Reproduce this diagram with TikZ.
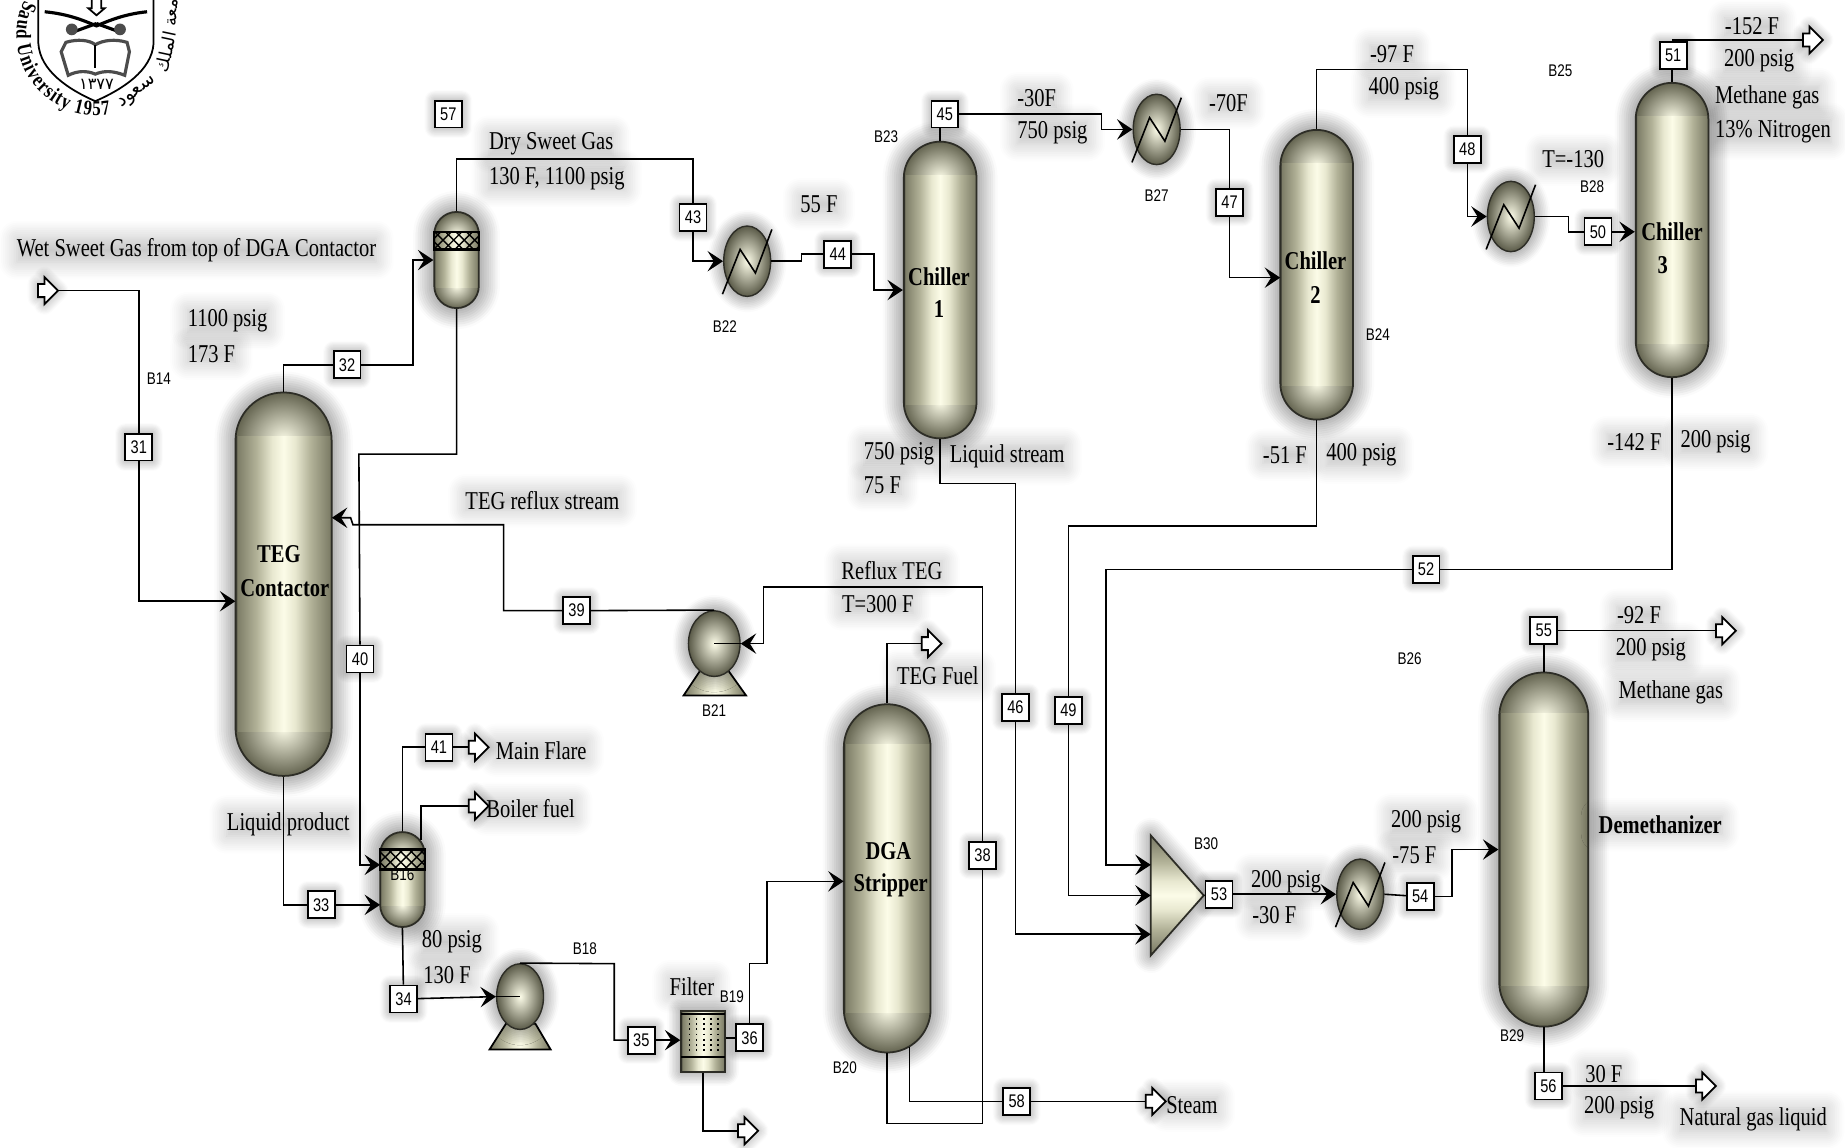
\documentclass[tikz,border=0pt]{standalone}
\usepackage{fontspec}
\setmainfont[FakeStretch=0.8]{Liberation Serif}
\setsansfont[FakeStretch=0.8]{Liberation Sans}
\newfontfamily\arabicfont[Script=Arabic]{DejaVu Sans}
\TeXXeTstate=1
\usetikzlibrary{arrows.meta, patterns, decorations.text, shapes.geometric, shapes.arrows, shadows.blur}

\definecolor{vesseledge}{RGB}{45,45,38}
\definecolor{vesseldark}{RGB}{100,100,80}
\definecolor{vesselside}{RGB}{125,125,103}
\definecolor{vesselmid}{RGB}{178,178,152}
\definecolor{vesselpale}{RGB}{232,232,208}
\definecolor{vessellight}{RGB}{252,252,232}
\pgfdeclarehorizontalshading{column}{100bp}{color(0bp)=(vesseledge); color(25bp)=(vesseledge); color(26bp)=(vesselside); color(36bp)=(vesselmid); color(44bp)=(vesselpale); color(50bp)=(vessellight); color(56bp)=(vesselpale); color(64bp)=(vesselmid); color(74bp)=(vesselside); color(75bp)=(vesseledge); color(100bp)=(vesseledge)}
\def\unitpx{0.3336pt}

\tikzset{
  glow/.style 2 args={blur shadow={shadow xshift=0pt, shadow yshift=0pt, shadow blur radius=#1, shadow blur steps=10, shadow opacity=#2}},
  stream/.style={draw=black, line width=.45pt},
  feed/.style={stream, -{Stealth[length=4.4pt, width=5.8pt, inset=1.8pt]}},
  tag/.style={draw, fill=white, line width=.5pt, inner sep=0pt, minimum size=23*\unitpx, font=\sffamily\fontsize{5.2}{6}\selectfont, glow={3pt}{45}},
  blocktag/.style={inner sep=0pt, font=\sffamily\fontsize{4.8}{6}\selectfont},
  note/.style={inner sep=0pt, yshift=-.2pt, font=\fontsize{7.3}{8}\selectfont, glow={5pt}{25}},
  title/.style={inner sep=0pt, font=\bfseries\fontsize{7.3}{8}\selectfont},
  port/.style={single arrow, draw, fill=white, line width=.5pt, inner sep=1.6pt, minimum height=17*\unitpx, single arrow head extend=2pt, glow={3pt}{40}},
  vessel/.style 2 args={shade, shading=column, draw=vesseledge, line width=.5pt, inner sep=0pt, glow={6pt}{65},
    minimum width=2*#1*\unitpx, minimum height=#2*\unitpx, rounded corners=#1*\unitpx,
    path picture={
      \begin{scope}[sharp corners]
        \clip ([yshift=-.9*#1*\unitpx]path picture bounding box.north west) rectangle (path picture bounding box.north east);
        \shade[inner color=vessellight, outer color=vesseldark] ([yshift=-#1*\unitpx]path picture bounding box.north) circle (#1*\unitpx);
      \end{scope}
      \begin{scope}[sharp corners]
        \clip ([yshift=.9*#1*\unitpx]path picture bounding box.south west) rectangle (path picture bounding box.south east);
        \shade[inner color=vessellight, outer color=vesseldark] ([yshift=#1*\unitpx]path picture bounding box.south) circle (#1*\unitpx);
      \end{scope}
    }},
  bulb/.style 2 args={ellipse, inner color=vessellight, outer color=vesseldark!90!black, draw=vesseledge, line width=.4pt, inner sep=0pt, glow={4.5pt}{60}, minimum width=2*#1*\unitpx, minimum height=2*#2*\unitpx},
  packing/.style={pattern=crosshatch, pattern color=black, draw=black, line width=.7pt},
  pumpbase/.style={shade, shading=column, draw=black, line width=.5pt}
}

\begin{document}
\begin{tikzpicture}[x=0.011767cm, y=-0.011767cm]
  \useasboundingbox (0,0) rectangle (1568,975);

  % crest
  \draw[line width=.5pt] (32.6,-2) -- (32.6,37) .. controls (34,60) and (58,76) .. (81,86) .. controls (104,76) and (129,60) .. (130.5,37) -- (130.5,-2);
  \path[decorate, decoration={text along path, text align={fit to path}, text={|\bfseries\fontsize{6}{7}\selectfont|Saud University 1957}}] (82,30) ++(154:0.8cm) arc (154:280:0.8cm);
  \node[inner sep=0pt, rotate=37, font=\fontsize{5.4}{6}\selectfont] (crestsaud) at (117,79) {\arabicfont\beginR سعود\endR};
  \node[inner sep=0pt, rotate=78, font=\fontsize{5}{6}\selectfont] (crestking) at (141,44) {\arabicfont\beginR الملك\endR};
  \node[inner sep=0pt, rotate=88, font=\fontsize{5}{6}\selectfont] (crestuni) at (146,4) {\arabicfont\beginR جامعة\endR};
  \node[inner sep=0pt, font=\fontsize{4.6}{5}\selectfont] (crestyear) at (82,72) {\arabicfont ١٣٧٧};
  \draw[line width=.5pt] (78,-2) -- (78,7) -- (75,7) -- (82,13) -- (89,7) -- (86,7) -- (86,-2);
  \draw[line width=.9pt] (38,10) .. controls (58,12) and (70,17) .. (82,22) .. controls (94,17) and (106,12) .. (125,10);
  \draw[line width=.9pt] (60,28) -- (82,20) (104,28) -- (82,20);
  \fill[black!70] (61,25) circle (5) (102,25) circle (5);
  \draw[line width=.9pt, draw=black!70] (52,44) -- (56,36) .. controls (66,33) and (76,34) .. (81,38) .. controls (88,34) and (98,33) .. (108,36) -- (110,44) -- (106,64) .. controls (96,60) and (88,60) .. (81,63) .. controls (74,60) and (66,60) .. (58,64) -- cycle;
  \draw[line width=.5pt] (81,38) -- (81,58);

  % text
  \node[note] (wetgas) at (167,212) {Wet Sweet Gas from top of DGA Contactor};
  \node[note, anchor=west] (pa) at (159,272) {1100 psig};
  \node[note, anchor=west] (ta) at (159,300) {173 F};
  \node[note, anchor=west] (drygas) at (415,122) {Dry Sweet Gas};
  \node[note, anchor=west] (tb) at (415,151) {130 F, 1100 psig};
  \node[note] (tc) at (696,173) {55 F};
  \node[note, anchor=west] (td) at (864,83) {-30F};
  \node[note, anchor=west] (pd) at (864,112) {750 psig};
  \node[note] (te) at (1044,87) {-70F};
  \node[note] (tf) at (1183,45) {-97 F};
  \node[note] (pf) at (1193,75) {400 psig};
  \node[note] (tg) at (1337,135) {T=-130};
  \node[note] (th) at (1489,22) {-152 F};
  \node[note] (ph) at (1495,51) {200 psig};
  \node[note, anchor=west] (methanea) at (1457,82) {Methane gas};
  \node[note, anchor=west] (nitrogen) at (1457,111) {13\% Nitrogen};
  \node[note] (pi) at (764,385) {750 psig};
  \node[note] (ti) at (750,412) {75 F};
  \node[note] (liqstream) at (856,387) {Liquid stream};
  \node[note] (tj) at (1092,386) {-51 F};
  \node[note] (pj) at (1157,386) {400 psig};
  \node[note] (tk) at (1389,375) {-142 F};
  \node[note] (pk) at (1458,375) {200 psig};
  \node[note] (tegreflux) at (461,425) {TEG reflux stream};
  \node[note] (refluxteg) at (758,484) {Reflux TEG};
  \node[note] (tl) at (746,513) {T=300 F};
  \node[note] (tegfuel) at (797,574) {TEG Fuel};
  \node[note] (mainflare) at (460,637) {Main Flare};
  \node[note] (boilerfuel) at (451,687) {Boiler fuel};
  \node[note] (liqproduct) at (245,700) {Liquid product};
  \node[note] (pm) at (384,800) {80 psig};
  \node[note] (tm) at (380,828) {130 F};
  \node[note] (filterlabel) at (588,838) {Filter};
  \node[note] (steam) at (1013,939) {Steam};
  \node[note] (pn) at (1093,749) {200 psig};
  \node[note] (tn) at (1083,777) {-30 F};
  \node[note] (po) at (1212,698) {200 psig};
  \node[note] (to) at (1202,726) {-75 F};
  \node[note] (tp) at (1393,522) {-92 F};
  \node[note] (pp) at (1403,552) {200 psig};
  \node[note] (methaneb) at (1420,588) {Methane gas};
  \node[note] (tq) at (1363,912) {30 F};
  \node[note] (pq) at (1376,941) {200 psig};
  \node[note] (ngl) at (1490,951) {Natural gas liquid};

  % vessels
  \node[vessel={41}{327}] (contactor) at (241,496.5) {};
  \node[vessel={19}{82}] (absorber) at (388,221) {};
  \node[vessel={31}{253}] (chillerA) at (799,246.5) {};
  \node[vessel={31}{247}] (chillerB) at (1119,233.5) {};
  \node[vessel={31}{251}] (chillerC) at (1421,195.5) {};
  \node[vessel={37}{297}] (stripper) at (754,746.5) {};
  \node[vessel={38}{302}] (demethanizer) at (1312,722) {};
  \node[vessel={19}{81}] (flash) at (342,747.5) {};
  \path[packing] (369,197) rectangle (407,212);
  \path[packing] (323,722) rectangle (361,739);

  % exchangers
  \node[bulb={20}{30}] (hxa) at (635,222) {};
  \node[bulb={20}{30}] (hxb) at (983,110) {};
  \node[bulb={20}{30}] (hxc) at (1284,184) {};
  \node[bulb={20}{30}] (hxd) at (1156,760) {};
  \foreach \hx in {hxa,hxb,hxc,hxd}
    \draw[line width=.45pt] (\hx) ++(-21,28) -- ++(15,-38) -- ++(13,20) -- ++(14,-37);

  % pumps
  \path[pumpbase] (430,870) -- (455,870) -- (468,892) -- (416,892) -- cycle;
  \path[pumpbase] (595,570) -- (619,570) -- (634,591) -- (581,591) -- cycle;
  \node[bulb={20}{28}] (pumpb) at (442,847) {};
  \node[bulb={22}{28}] (pumpa) at (607,547) {};

  % filter and mixer
  \node[shade, shading=column, draw=vesseledge, line width=.6pt, inner sep=0pt, glow={4pt}{55}, minimum width=37*\unitpx, minimum height=52*\unitpx] (filter) at (597.5,885) {};
  \draw[line width=.6pt] (579,898) -- (616,898) (579,862) -- (616,862);
  \foreach \x in {586,592,598,604,610}
    \draw[densely dotted, line width=.5pt] (\x,865) -- (\x,896);
  \path[shade, shading=column, shading angle=90, draw=vesseledge, line width=.5pt, glow={5pt}{55}] (978,710) -- (1023,761) -- (978,812) -- cycle;
  \coordinate (mixerin) at (978,735);
  \coordinate (mixermid) at (978,761);
  \coordinate (mixerlow) at (978,794);
  \coordinate (mixerout) at (1023,761);

  % stream numbers
  \foreach \n/\x/\y in {31/118/380, 32/295/310, 33/273/769, 34/343/849, 35/545/884, 36/637/882, 38/835/727, 39/490/519, 40/306/560, 41/373/635, 43/589/185, 44/712/216, 45/803/97, 46/863/601, 47/1045/172, 48/1247/127, 49/908/604, 50/1358/197, 51/1422/47, 52/1212/484, 53/1036/760, 54/1207/762, 55/1312/536, 56/1316/923, 57/381/97, 58/864/936}
    \node[tag] (s\n) at (\x,\y) {\n};

  % block names
  \foreach \n/\x/\y in {B14/135/322, B16/342/743, B18/497/806, B19/622/847, B20/718/907, B21/607/604, B22/616/278, B23/753/116, B24/1171/284, B25/1326/60, B26/1198/560, B27/983/166, B28/1353/159, B29/1285/880, B30/1025/717}
    \node[blocktag] (l\n) at (\x,\y) {\n};

  % open arrows
  \node[port] (wetin) at (38,247) {};
  \node[port] (flareout) at (404,635) {};
  \node[port] (boilerout) at (404,685) {};
  \node[port] (filterout) at (633,961) {};
  \node[port] (fuelout) at (789,547) {};
  \node[port] (steamout) at (979.5,936) {};
  \node[port] (nitrogenout) at (1538,34) {};
  \node[port] (methaneout) at (1464,536) {};
  \node[port] (liquidout) at (1447,923) {};

  % inlet points
  \coordinate (contactorin) at (200,511);
  \coordinate (contactorre) at (282,440);
  \coordinate (flashup) at (323,735);
  \coordinate (flashlow) at (323,769);
  \coordinate (chillerBin) at (1088,236);
  \coordinate (flashtop) at (358,714);
  \coordinate (stripperin) at (717,749);
  \coordinate (stripperlow) at (773,890);

  % connectors
  \draw[stream] (wetin.east) -| (s31);
  \draw[feed] (s31) |- (contactorin);
  \draw[stream] (contactor.north) |- (s32);
  \draw[feed] (s32) -- (351,310) |- (absorber.west);
  \draw[stream] (absorber.north) |- (589,135) -- (s43);
  \draw[feed] (s43) |- (hxa.west);
  \draw[stream] (hxa.east) -- (681,222) -- (681,216) -- (s44);
  \draw[feed] (s44) -- (743,216) |- (chillerA.west);
  \draw[stream] (chillerA.north) -- (chillerA.north |- s45.south);
  \draw[feed] (s45) -- (936,97) |- (hxb.west);
  \draw[stream] (hxb.east) -| (s47);
  \draw[feed] (s47) |- (chillerBin);
  \draw[stream] (chillerB.north) |- (1247,59) -- (s48);
  \draw[feed] (s48) |- (hxc.west);
  \draw[stream] (hxc.east) -- (1333,184) |- (s50);
  \draw[feed] (s50) -- (s50 -| chillerC.west);
  \draw[stream] (chillerC.north) -- (chillerC.north |- s51.south);
  \draw[stream] (s51.north) |- (nitrogenout.west);
  \draw[stream] (chillerA.south) |- (863,411) -- (s46);
  \draw[feed] (s46) |- (mixerlow);
  \draw[stream] (chillerB.south) |- (908,447) -- (s49);
  \draw[feed] (s49) |- (mixermid);
  \draw[stream] (chillerC.south) |- (s52);
  \draw[feed] (s52) -- (940,484) |- (mixerin);
  \draw[stream] (mixerout) -- (s53);
  \draw[feed] (s53) -- (hxd.west);
  \draw[stream] (hxd.east) -- (s54);
  \draw[feed] (s54) -- (1234,762) |- (demethanizer.west);
  \draw[stream] (demethanizer.north) -- (s55);
  \draw[stream] (s55) -- (methaneout.west);
  \draw[stream] (demethanizer.south) -- (demethanizer.south |- s56.north);
  \draw[stream] (s56) -- (liquidout.west);
  \draw[stream] (contactor.south) |- (s33);
  \draw[feed] (s33) -- (flashlow);
  \draw[stream] (absorber.south) |- (305,386) -- (s40);
  \draw[feed] (s40) |- (flashup);
  \draw[stream] (flash.north) |- (s41);
  \draw[stream] (s41) -- (flareout.west);
  \draw[stream] (flashtop) |- (boilerout.west);
  \draw[stream] (flash.south) -- (s34);
  \draw[feed] (s34) -- (pumpb.west);
  \draw[stream] (pumpb.west) -- (pumpb.center);
  \draw[stream] (pumpb.north) -- (522,819) |- (s35);
  \draw[feed] (s35) -- (filter.west |- s35);
  \draw[stream] (filter.east |- s36) -- (s36);
  \draw[feed] (s36.north) |- (652,819) |- (stripperin);
  \draw[stream] (filter.south) |- (filterout.west);
  \draw[stream] (stripper.north) |- (fuelout.west);
  \draw[stream] (stripper.south) |- (835,955) -- (s38);
  \draw[feed] (s38) |- (649,499) |- (pumpa.east);
  \draw[stream] (pumpa.east) -- (pumpa.center);
  \draw[stream] (pumpa.north) -- (s39);
  \draw[feed] (s39) -- (428,519) -- (428,446) -- (300,446) -- (298,440) -- (contactorre);
  \draw[stream] (stripperlow) |- (s58);
  \draw[stream] (s58) -- (steamout.west);

  % names on the vessels
  \node[title] (tega) at (237,471) {TEG};
  \node[title] (tegb) at (242,500) {Contactor};
  \node[title] (chaa) at (798,235) {Chiller};
  \node[title] (chab) at (798,263) {1};
  \node[title] (chba) at (1118,222) {Chiller};
  \node[title] (chbb) at (1118,251) {2};
  \node[title] (chca) at (1421,197) {Chiller};
  \node[title] (chcb) at (1413,225) {3};
  \node[title] (dgaa) at (755,723) {DGA};
  \node[title] (dgab) at (757,752) {Stripper};
  \node[title, glow={5pt}{25}] (demname) at (1411,701) {Demethanizer};
\end{tikzpicture}
\end{document}
